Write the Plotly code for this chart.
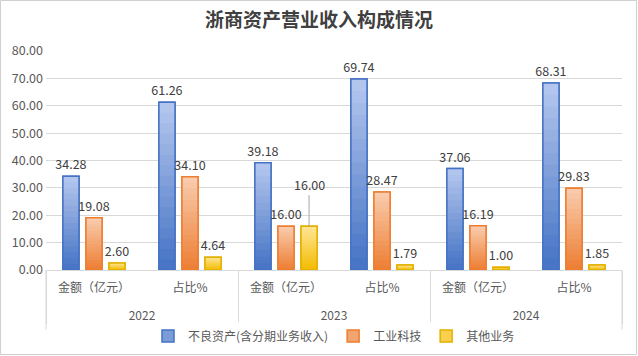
import plotly.graph_objects as go

years = ["2022", "2022", "2023", "2023", "2024", "2024"]
cats = ["金额（亿元）", "占比%", "金额（亿元）", "占比%", "金额（亿元）", "占比%"]
series_names = ["不良资产(含分期业务收入)", "工业科技", "其他业务"]
bad_assets = [34.28, 61.26, 39.18, 69.74, 37.06, 68.31]
industry_tech = [19.08, 34.10, 16.00, 28.47, 16.19, 29.83]
other_biz = [2.60, 4.64, 16.00, 1.79, 1.00, 1.85]
y_ticks = [0, 10, 20, 30, 40, 50, 60, 70, 80]

top_colors = [(0xb6, 0xc8, 0xee), (0xf9, 0xcd, 0xb0), (0xff, 0xe6, 0x98)]
bottom_colors = [(0x44, 0x72, 0xc4), (0xed, 0x7d, 0x31), (0xf3, 0xbb, 0x00)]
line_colors = ["#4472c4", "#ed7d31", "#e2b000"]
font_main = "Noto Sans CJK SC"
N_LAYERS = 16

W, H = 638, 356
ml, mr, mt, mb = 46, 16, 51, 86
pw, ph = W - ml - mr, H - mt - mb


def mix(c_top, c_bot, t):
    return "rgb({},{},{})".format(*[round(b + (a - b) * t) for a, b in zip(c_top, c_bot)])


# category labels with an empty second line to open space before the year row
cat_labels = [c + "<br> " for c in cats]
xcat = [years, cat_labels]

fig = go.Figure()
all_vals = [bad_assets, industry_tech, other_biz]
leader_idx = 2  # 2023 金额 其他业务 label uses a leader line
for si, (name, vals) in enumerate(zip(series_names, all_vals)):
    grp = f"g{si}"
    # base bar: legend entry (mid colour + border)
    fig.add_trace(go.Bar(
        x=xcat, y=vals, name=name, offsetgroup=grp,
        marker=dict(color=mix(top_colors[si], bottom_colors[si], 0.5),
                    line=dict(color=line_colors[si], width=1.5)),
        hoverinfo="skip", showlegend=True,
    ))
    # vertical gradient: shorter and darker layers on top of each other
    for k in range(N_LAYERS):
        frac = 1 - k / N_LAYERS
        t = 1 - (k + 0.5) / N_LAYERS
        fig.add_trace(go.Bar(
            x=xcat, y=[v * frac for v in vals], offsetgroup=grp,
            marker=dict(color=mix(top_colors[si], bottom_colors[si], t), line=dict(width=0)),
            hoverinfo="skip", showlegend=False,
        ))
    # outline + value labels
    texts = [f"{v:.2f}" for v in vals]
    if si == 2:
        texts[leader_idx] = ""
    fig.add_trace(go.Bar(
        x=xcat, y=vals, offsetgroup=grp, showlegend=False,
        marker=dict(color="rgba(0,0,0,0)", line=dict(color=line_colors[si], width=1.5)),
        text=texts, textposition="outside", cliponaxis=False, constraintext="none",
        textfont=dict(size=12.5, color="#404040", family=font_main),
        hoverinfo="skip",
    ))

# leader-line label for 2023 金额 其他业务
fig.add_annotation(
    x=leader_idx + 0.24, y=other_biz[leader_idx], xref="x", yref="y",
    text=f"{other_biz[leader_idx]:.2f}", showarrow=True, arrowhead=0,
    arrowcolor="#a6a6a6", arrowwidth=1, ax=0, ay=-42, standoff=0,
    font=dict(size=12.5, color="#404040", family=font_main),
)

fig.update_layout(
    width=W, height=H,
    margin=dict(l=ml, r=mr, t=mt, b=mb, autoexpand=False),
    paper_bgcolor="white", plot_bgcolor="white",
    barmode="group", bargap=0.28, bargroupgap=0.3,
    uniformtext=dict(minsize=12.5, mode="show"),
    title=dict(text="<b>浙商资产营业收入构成情况</b>", x=0.5, xanchor="center",
               y=1 - 20 / H, yanchor="middle",
               font=dict(size=19, color="#404040", family=font_main)),
    font=dict(family=font_main, color="#595959"),
    legend=dict(orientation="h", x=0.5, xanchor="center", y=-(336 - (H - mb)) / ph,
                yanchor="middle", font=dict(size=12, color="#595959"),
                itemwidth=30, traceorder="normal"),
    xaxis=dict(type="multicategory", showline=True, linecolor="#d9d9d9", linewidth=1,
               showdividers=True, dividercolor="#d9d9d9", dividerwidth=1,
               tickfont=dict(size=12, color="#595959"), ticks="",
               automargin=False, ticklabelstandoff=7),
    yaxis=dict(range=[0, 80], tickvals=y_ticks, tickformat=".2f",
               showgrid=True, gridcolor="#d9d9d9", gridwidth=1, zeroline=False,
               tickfont=dict(size=12.5, color="#595959"), ticks="",
               automargin=False, ticklabelstandoff=2),
    showlegend=True,
)

# edge dividers of the category axis
for xe in (0, 1):
    fig.add_shape(type="line", xref="paper", yref="paper", x0=xe, x1=xe,
                  y0=0, y1=-(330 - (H - mb)) / ph, line=dict(color="#d9d9d9", width=1))

# outer chart border
fig.add_shape(type="rect", xref="paper", yref="paper",
              x0=-(ml - 0.5) / pw, x1=1 + (mr - 1.5) / pw,
              y0=-(mb - 1.5) / ph, y1=1 + (mt - 0.5) / ph,
              line=dict(color="#d0d0d0", width=1), fillcolor="rgba(0,0,0,0)", layer="above")

fig.write_html("out.html", config={"displayModeBar": False},
               post_script="document.body.style.margin='0';document.body.style.overflow='hidden';")
